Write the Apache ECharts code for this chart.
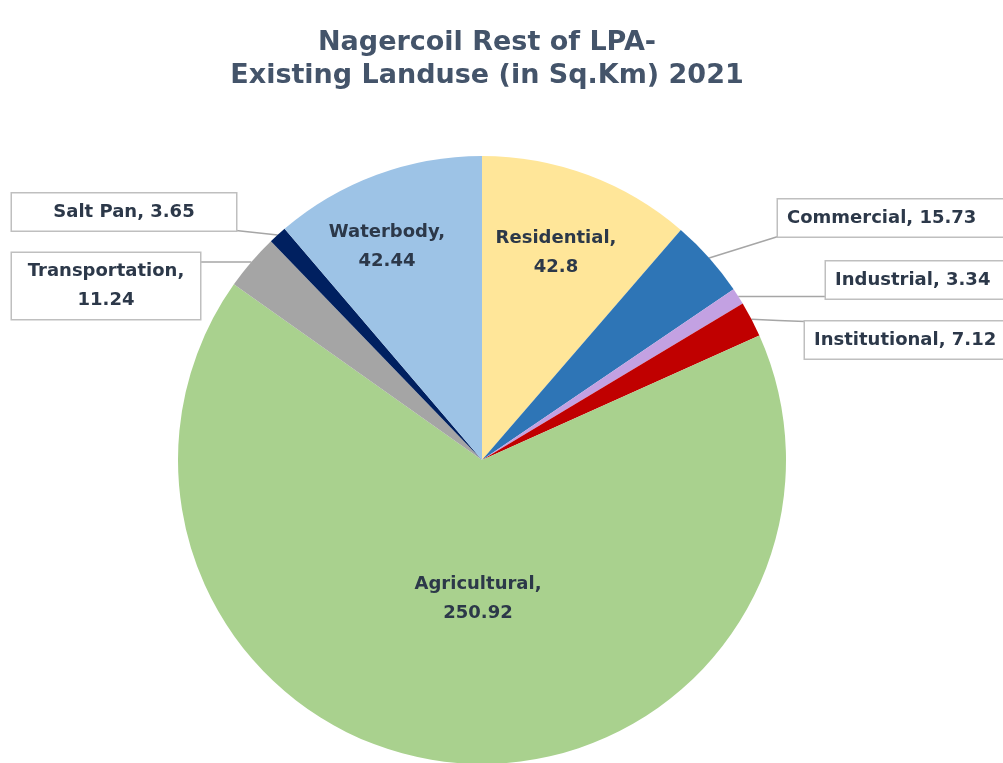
<!DOCTYPE html>
<html>
<head>
<meta charset="utf-8">
<script src="https://cdn.jsdelivr.net/npm/echarts@6/dist/echarts.min.js"></script>
<style>
  html, body { margin: 0; padding: 0; background: #ffffff; }
  #chart { width: 1003px; height: 763px; }
</style>
</head>
<body>
<div id="chart"></div>
<script>
const titleLines = ['Nagercoil Rest of LPA-', 'Existing Landuse (in Sq.Km) 2021'];
const categories = ['Residential', 'Commercial', 'Industrial', 'Institutional', 'Agricultural', 'Transportation', 'Salt Pan', 'Waterbody'];
const values = [42.8, 15.73, 3.34, 7.12, 250.92, 11.24, 3.65, 42.44];
const colors = ['#FFE699', '#2E75B6', '#C3A1E2', '#C00000', '#A9D18E', '#A5A5A5', '#002060', '#9DC3E6'];

const FONT = 'DejaVu Sans';
const TEXT = '#2c3849';
const LINE_H = 29;

// label placement (layout only)
const twoLine = [true, false, false, false, true, true, false, true];
const boxed = [false, true, true, true, false, true, true, false];
const labelPos = {
  0: { x: 556, y: 253, align: 'center' },
  1: { x: 778, y: 218, align: 'left' },
  2: { x: 826, y: 280, align: 'left' },
  3: { x: 805, y: 340, align: 'left' },
  4: { x: 478, y: 599, align: 'center' },
  5: { x: 106, y: 286, align: 'center' },
  6: { x: 124, y: 212, align: 'center' },
  7: { x: 387, y: 247, align: 'center' }
};
const boxWidth = { 1: 230, 2: 190, 3: 210, 5: 168, 6: 206 };
const padSingle = [4, 9];
const padDouble = [4, 10];

function boxRect(i) {
  const p = labelPos[i];
  const pad = twoLine[i] ? padDouble : padSingle;
  const W = boxWidth[i] + pad[1] * 2;
  const H = (twoLine[i] ? 2 : 1) * LINE_H + pad[0] * 2;
  const x0 = p.align === 'left' ? p.x : p.x - W / 2;
  return { x0: x0, x1: x0 + W, y0: p.y - H / 2, y1: p.y + H / 2 };
}

const data = categories.map((name, i) => {
  const label = {
    formatter: twoLine[i] ? '{b},\n{c}' : '{b}, {c}'
  };
  if (boxed[i]) {
    Object.assign(label, {
      position: 'outside',
      backgroundColor: '#ffffff',
      borderColor: '#bfbfbf',
      borderWidth: 1.5,
      padding: twoLine[i] ? padDouble : padSingle,
      width: boxWidth[i],
      align: labelPos[i].align
    });
  } else {
    label.position = 'inside';
  }
  return {
    name: name,
    value: values[i],
    itemStyle: { color: colors[i] },
    label: label,
    labelLine: { show: boxed[i] }
  };
});

const chart = echarts.init(document.getElementById('chart'), null, { renderer: 'canvas' });
chart.setOption({
  backgroundColor: '#ffffff',
  animation: false,
  title: {
    text: titleLines.join('\n'),
    left: 482,
    textAlign: 'center',
    top: 21,
    textStyle: {
      fontFamily: FONT,
      fontSize: 27,
      fontWeight: 'bold',
      color: '#44546A',
      lineHeight: 33
    }
  },
  series: [{
    type: 'pie',
    center: [482, 460],
    radius: [0, 304],
    startAngle: 90,
    clockwise: true,
    avoidLabelOverlap: false,
    itemStyle: { borderWidth: 0 },
    label: {
      show: true,
      fontFamily: FONT,
      fontSize: 18,
      fontWeight: 'bold',
      color: TEXT,
      lineHeight: LINE_H,
      align: 'center'
    },
    labelLine: {
      show: true,
      length: 15,
      length2: 20,
      smooth: false,
      lineStyle: { color: '#a6a6a6', width: 1.5 }
    },
    labelLayout: function (params) {
      const i = params.dataIndex;
      const p = labelPos[i];
      const out = { x: p.x, y: p.y, align: p.align, verticalAlign: 'middle' };
      if (boxed[i] && params.labelLinePoints) {
        const s = params.labelLinePoints[0];
        const r = boxRect(i);
        const ex = Math.min(Math.max(s[0], r.x0), r.x1);
        const ey = Math.min(Math.max(s[1], r.y0), r.y1);
        out.labelLinePoints = [[s[0], s[1]], [(s[0] + ex) / 2, (s[1] + ey) / 2], [ex, ey]];
      }
      return out;
    },
    emphasis: { disabled: true },
    data: data
  }]
});
</script>
</body>
</html>
